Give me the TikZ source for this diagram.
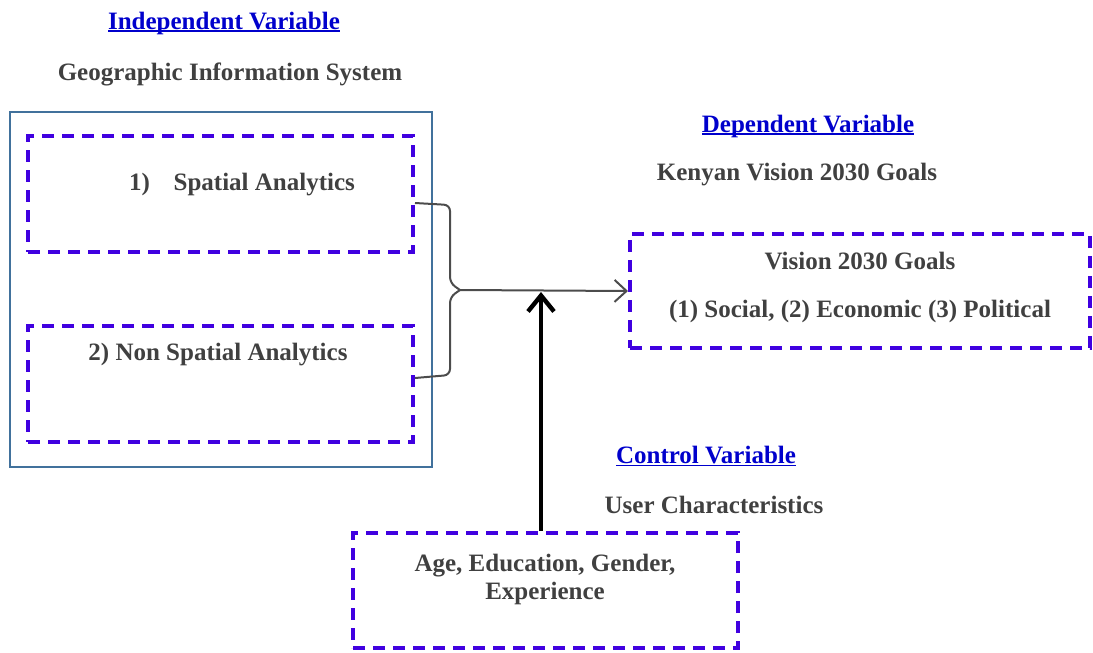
\documentclass[tikz,border=0pt]{standalone}
\usepackage{fontspec}
\setmainfont{Liberation Serif}
\usetikzlibrary{arrows.meta,positioning}

\definecolor{dashblue}{RGB}{64,0,224}
\definecolor{linkblue}{RGB}{0,0,204}
\definecolor{textgray}{RGB}{64,64,64}
\definecolor{framebl}{RGB}{65,113,156}

\newcommand\ulhead[1]{\setbox0\hbox{#1}\rlap{\rule[-1.3pt]{\wd0}{0.6pt}}\box0}

\tikzset{
  dbox/.style={draw=dashblue, line width=2pt, dash pattern=on 6pt off 4pt,
    minimum width=192.5pt, minimum height=58pt, inner sep=0pt},
  head/.style={text=linkblue, font=\bfseries\fontsize{12.5}{15}\selectfont},
  sub/.style={text=textgray, font=\bfseries\fontsize{12.5}{15}\selectfont, align=center},
  brace/.style={draw=black!70, line width=1pt, rounded corners=3pt},
  flow/.style={draw=black!70, line width=1pt, -{Straight Barb[length=6pt,width=11pt]}},
  ctrlarrow/.style={draw=black, line width=2.2pt, -{Straight Barb[length=8pt,width=13pt,line width=2.2pt]}}
}

\begin{document}
\begin{tikzpicture}[x=0.5pt,y=-0.5pt]
  \useasboundingbox (0,0) rectangle (1093,653);

  % independent variable
  \node[head] (indep) at (224,23) {\ulhead{Independent Variable}};
  \node[sub] (gis) at (230,74) {Geographic Information System};
  \draw[framebl, line width=0.6pt] (10,112) rectangle (432,467);
  \node[dbox] (spatial) at (220.5,194) {};
  \node[sub] (spatialtxt) at (242,185) {1)\hspace{0.95em}Spatial Analytics};
  \node[dbox] (nonspatial) at (220.5,384) {};
  \node[sub] (nonspatialtxt) at (218,355) {2) Non Spatial Analytics};

  % dependent variable
  \node[head] (dep) at (808,126) {\ulhead{Dependent Variable}};
  \node[sub] (kenya) at (797,175) {Kenyan Vision 2030 Goals};
  \node[dbox, minimum width=230pt, minimum height=57pt] (goals) at (860,291) {};
  \node[sub] (goalstxt) at (860,261) {Vision 2030 Goals};
  \node[sub] (goalslist) at (860,311) {(1) Social, (2) Economic (3) Political};

  % control variable
  \node[head] (ctrl) at (706,456) {\ulhead{Control Variable}};
  \node[sub] (user) at (714,505) {User Characteristics};
  \node[dbox, minimum height=57.5pt] (chars) at (545.5,590.5) {};
  \node[sub] (charstxt) at (545,579) {Age, Education, Gender,\\[-1pt]Experience};

  % brace and arrows
  \coordinate (tip) at (460,290);
  \coordinate (join) at (541,292);
  \draw[brace] (spatial.east |- 0,203) -- (450,205) -- (450,283) -- (tip);
  \draw[brace] (nonspatial.east |- 0,378) -- (450,375) -- (450,297) -- (tip);
  \draw[flow] (tip) -- (goals.west);
  \draw[ctrlarrow] (chars.north -| join) -- (join);
\end{tikzpicture}
\end{document}
